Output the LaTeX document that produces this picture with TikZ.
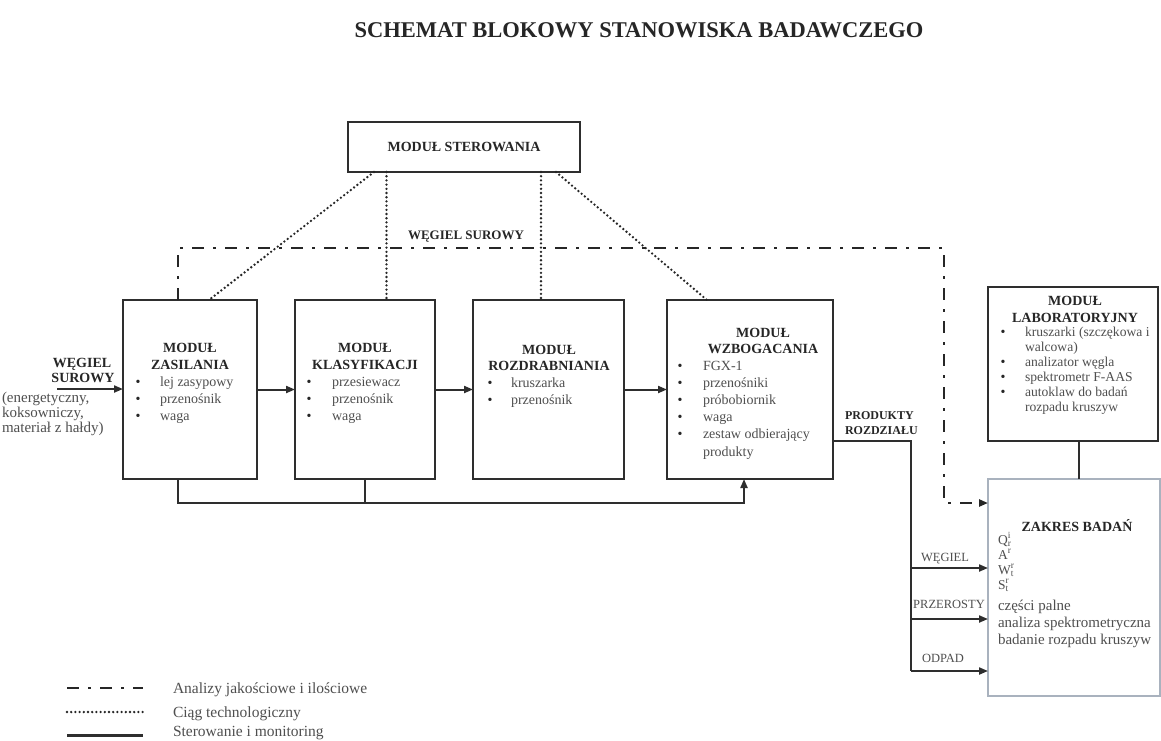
\documentclass[tikz,border=0pt]{standalone}
\usepackage{fontspec}
\setmainfont{Liberation Serif}
\usetikzlibrary{arrows.meta}

\definecolor{ink}{HTML}{262626}
\definecolor{txt}{HTML}{4F4F4F}
\definecolor{frame}{HTML}{2E2E2E}
\definecolor{faint}{HTML}{A9B2BE}

\begin{document}
\begin{tikzpicture}[x=1pt,y=-1pt,
  every node/.style={inner sep=0pt, outer sep=0pt},
  modbox/.style={draw=frame, line width=2.2pt, anchor=north west},
  hdtext/.style={font=\bfseries\fontsize{14}{16}\selectfont, text=ink, anchor=base},
  itemtext/.style={font=\fontsize{14}{17}\selectfont, text=txt, anchor=base west},
  labtext/.style={font=\fontsize{13.6}{15}\selectfont, text=txt, anchor=base west},
  zaktext/.style={font=\fontsize{15}{17}\selectfont, text=txt, anchor=base west},
  symtext/.style={font=\fontsize{13.5}{15}\selectfont, text=txt, anchor=base west},
  bulmark/.style={font=\fontsize{14}{16}\selectfont, text=ink, anchor=base},
  smallcap/.style={font=\fontsize{12.5}{14}\selectfont, text=txt, anchor=base},
  legtext/.style={font=\fontsize{15.5}{18}\selectfont, text=txt, anchor=base west},
  conn/.style={draw=frame, line width=2pt},
  connarr/.style={conn, -{Triangle[length=9pt,width=7pt]}},
  ddline/.style={draw=ink, line width=2.8pt, dash pattern=on 12pt off 9pt on 3pt off 9pt},
  dotline/.style={draw=ink, line width=2.6pt, line cap=round, dash pattern=on 0pt off 4.2pt},
]
\useasboundingbox (0,0) rectangle (1161,740);
\fill[white] (0,0) rectangle (1161,740);

% title
\node[font=\bfseries\fontsize{22.5}{26}\selectfont, text=ink] (title) at (639,30)
  {SCHEMAT BLOKOWY STANOWISKA BADAWCZEGO};

% control module
\node[modbox, minimum width=232pt, minimum height=50pt] (st) at (348,122) {};
\node[font=\bfseries\fontsize{14}{16}\selectfont, text=ink] (stt) at (st.center) {MODUŁ STEROWANIA};

% process modules
\node[modbox, minimum width=134pt, minimum height=179pt] (b1) at (123,300) {};
\node[modbox, minimum width=140pt, minimum height=179pt] (b2) at (295,300) {};
\node[modbox, minimum width=151pt, minimum height=179pt] (b3) at (473,300) {};
\node[modbox, minimum width=166pt, minimum height=179pt] (b4) at (667,300) {};

% laboratory module and range of tests
\node[modbox, minimum width=170pt, minimum height=154pt] (lab) at (988,287) {};
\node[draw=faint, line width=1.2pt, anchor=north west, minimum width=172pt, minimum height=217pt] (zk) at (988,479) {};

% module headings
\node[hdtext] (b1h1) at (190,352) {MODUŁ};
\node[hdtext] (b1h2) at (190,369) {ZASILANIA};
\node[hdtext] (b2h1) at (365,352) {MODUŁ};
\node[hdtext] (b2h2) at (365,369) {KLASYFIKACJI};
\node[hdtext] (b3h1) at (549,354) {MODUŁ};
\node[hdtext] (b3h2) at (549,370) {ROZDRABNIANIA};
\node[hdtext] (b4h1) at (763,337) {MODUŁ};
\node[hdtext] (b4h2) at (763,353) {WZBOGACANIA};
\node[hdtext] (labh1) at (1075,305) {MODUŁ};
\node[hdtext] (labh2) at (1075,322) {LABORATORYJNY};
\node[hdtext] (zkh) at (1077,531) {ZAKRES BADAŃ};

% module contents
\foreach \t [count=\i] in {lej zasypowy, przenośnik, waga}{
  \node[bulmark] (b1d\i) at (138,{386+17*(\i-1)}) {\textbullet};
  \node[itemtext] (b1i\i) at (160,{386+17*(\i-1)}) {\t};
}
\foreach \t [count=\i] in {przesiewacz, przenośnik, waga}{
  \node[bulmark] (b2d\i) at (309,{386+17*(\i-1)}) {\textbullet};
  \node[itemtext] (b2i\i) at (332,{386+17*(\i-1)}) {\t};
}
\foreach \t [count=\i] in {kruszarka, przenośnik}{
  \node[bulmark] (b3d\i) at (490,{387+17*(\i-1)}) {\textbullet};
  \node[itemtext] (b3i\i) at (511,{387+17*(\i-1)}) {\t};
}
\foreach \t [count=\i] in {FGX-1, przenośniki, próbobiornik, waga, zestaw odbierający}{
  \node[bulmark] (b4d\i) at (680,{370+17.2*(\i-1)}) {\textbullet};
  \node[itemtext] (b4i\i) at (703,{370+17.2*(\i-1)}) {\t};
}
\node[itemtext] (b4i6) at (703,456) {produkty};

% laboratory contents
\foreach \t/\b [count=\i] in {kruszarki (szczękowa i/1, walcowa)/0, analizator węgla/1,
    spektrometr F-AAS/1, autoklaw do badań/1, rozpadu kruszyw/0}{
  \ifnum\b=1 \node[bulmark] (labd\i) at (1003,{336+15*(\i-1)}) {\textbullet}; \fi
  \node[labtext] (labi\i) at (1025,{336+15*(\i-1)}) {\t};
}

% range of tests
\node[symtext] (zq) at (998,544) {Q\rlap{\textsuperscript{i}}\textsubscript{r}};
\node[symtext] (za) at (998,559) {A\textsuperscript{r}};
\node[symtext] (zw) at (998,574) {W\rlap{\textsuperscript{r}}\textsubscript{t}};
\node[symtext] (zs) at (998,589) {S\rlap{\textsuperscript{r}}\textsubscript{t}};
\node[zaktext] (zc) at (998,610) {części palne};
\node[zaktext] (zn) at (998,627) {analiza spektrometryczna};
\node[zaktext] (zb) at (998,644) {badanie rozpadu kruszyw};

% raw coal input
\node[font=\bfseries\fontsize{14}{16}\selectfont, text=ink, anchor=base] (in1) at (82,367) {WĘGIEL};
\node[font=\bfseries\fontsize{14}{16}\selectfont, text=ink, anchor=base] (in2) at (83,382) {SUROWY};
\node[font=\fontsize{15}{17}\selectfont, text=txt, anchor=base west] (in3) at (2,402) {(energetyczny,};
\node[font=\fontsize{15}{17}\selectfont, text=txt, anchor=base west] (in4) at (2,417) {koksowniczy,};
\node[font=\fontsize{15}{17}\selectfont, text=txt, anchor=base west] (in5) at (2,432) {materiał z hałdy)};
\coordinate (inp) at (57,389);
\draw[connarr] (inp) -- (inp -| b1.west);

% main process flow
\draw[connarr] (b1) -- (b2);
\draw[connarr] (b2) -- (b3);
\draw[connarr] (b3) -- (b4);

% return line under the modules
\coordinate (fa) at (178,503);
\coordinate (fb) at (365,503);
\coordinate (fc) at (744,503);
\draw[connarr] (fa |- b1.south) -- (fa) -- (fc) -- (fc |- b4.south);
\draw[conn] (fb |- b2.south) -- (fb);

% separation products
\node[font=\bfseries\fontsize{12}{14}\selectfont, text=ink, anchor=base west] (pr1) at (845,419) {PRODUKTY};
\node[font=\bfseries\fontsize{12}{14}\selectfont, text=ink, anchor=base west] (pr2) at (845,434) {ROZDZIAŁU};
\coordinate (pr) at (911,441);
\coordinate (pwg) at (911,568);
\coordinate (ppz) at (911,619);
\coordinate (pod) at (911,671);
\draw[conn] (b4.east |- pr) -- (pr) -- (pod);
\draw[connarr] (pwg) -- (zk.west |- pwg);
\draw[connarr] (ppz) -- (zk.west |- ppz);
\draw[connarr] (pod) -- (zk.west |- pod);
\node[smallcap] (lwg) at (945,561) {WĘGIEL};
\node[smallcap] (lpz) at (949,608) {PRZEROSTY};
\node[smallcap] (lod) at (943,662) {ODPAD};

% laboratory link
\coordinate (lz) at ([xshift=91pt]lab.south west);
\draw[conn] (lz) -- (lz |- zk.north);

% control links
\coordinate (c1) at ([xshift=26pt]st.south west);
\coordinate (c2) at ([xshift=38.5pt]st.south west);
\coordinate (c3) at ([xshift=193pt]st.south west);
\coordinate (c4) at ([xshift=208pt]st.south west);
\draw[dotline] (c1) -- ([xshift=86pt]b1.north west);
\draw[dotline] (c2) -- (c2 |- b2.north);
\draw[dotline] (c3) -- (c3 |- b3.north);
\draw[dotline] (c4) -- ([xshift=40pt]b4.north west);

% raw coal sampling path
\node[font=\bfseries\fontsize{13}{15}\selectfont, text=ink] (wsl) at (466,237) {WĘGIEL SUROWY};
\coordinate (ddl) at (178,248);
\coordinate (ddr) at (944,248);
\coordinate (dde) at (944,503);
\draw[ddline, -{Triangle[length=9pt,width=7pt]}] (ddl |- b1.north) -- (ddl) -- (ddr) -- (dde) -- (zk.west |- dde);

% legend
\draw[ddline] (67,688) -- (143,688);
\draw[dotline] (67,712) -- (143,712);
\draw[conn, line width=3pt] (67,735) -- (143,735);
\node[legtext] (lg1) at (173,693) {Analizy jakościowe i ilościowe};
\node[legtext] (lg2) at (173,717) {Ciąg technologiczny};
\node[legtext] (lg3) at (173,736) {Sterowanie i monitoring};
\end{tikzpicture}
\end{document}
